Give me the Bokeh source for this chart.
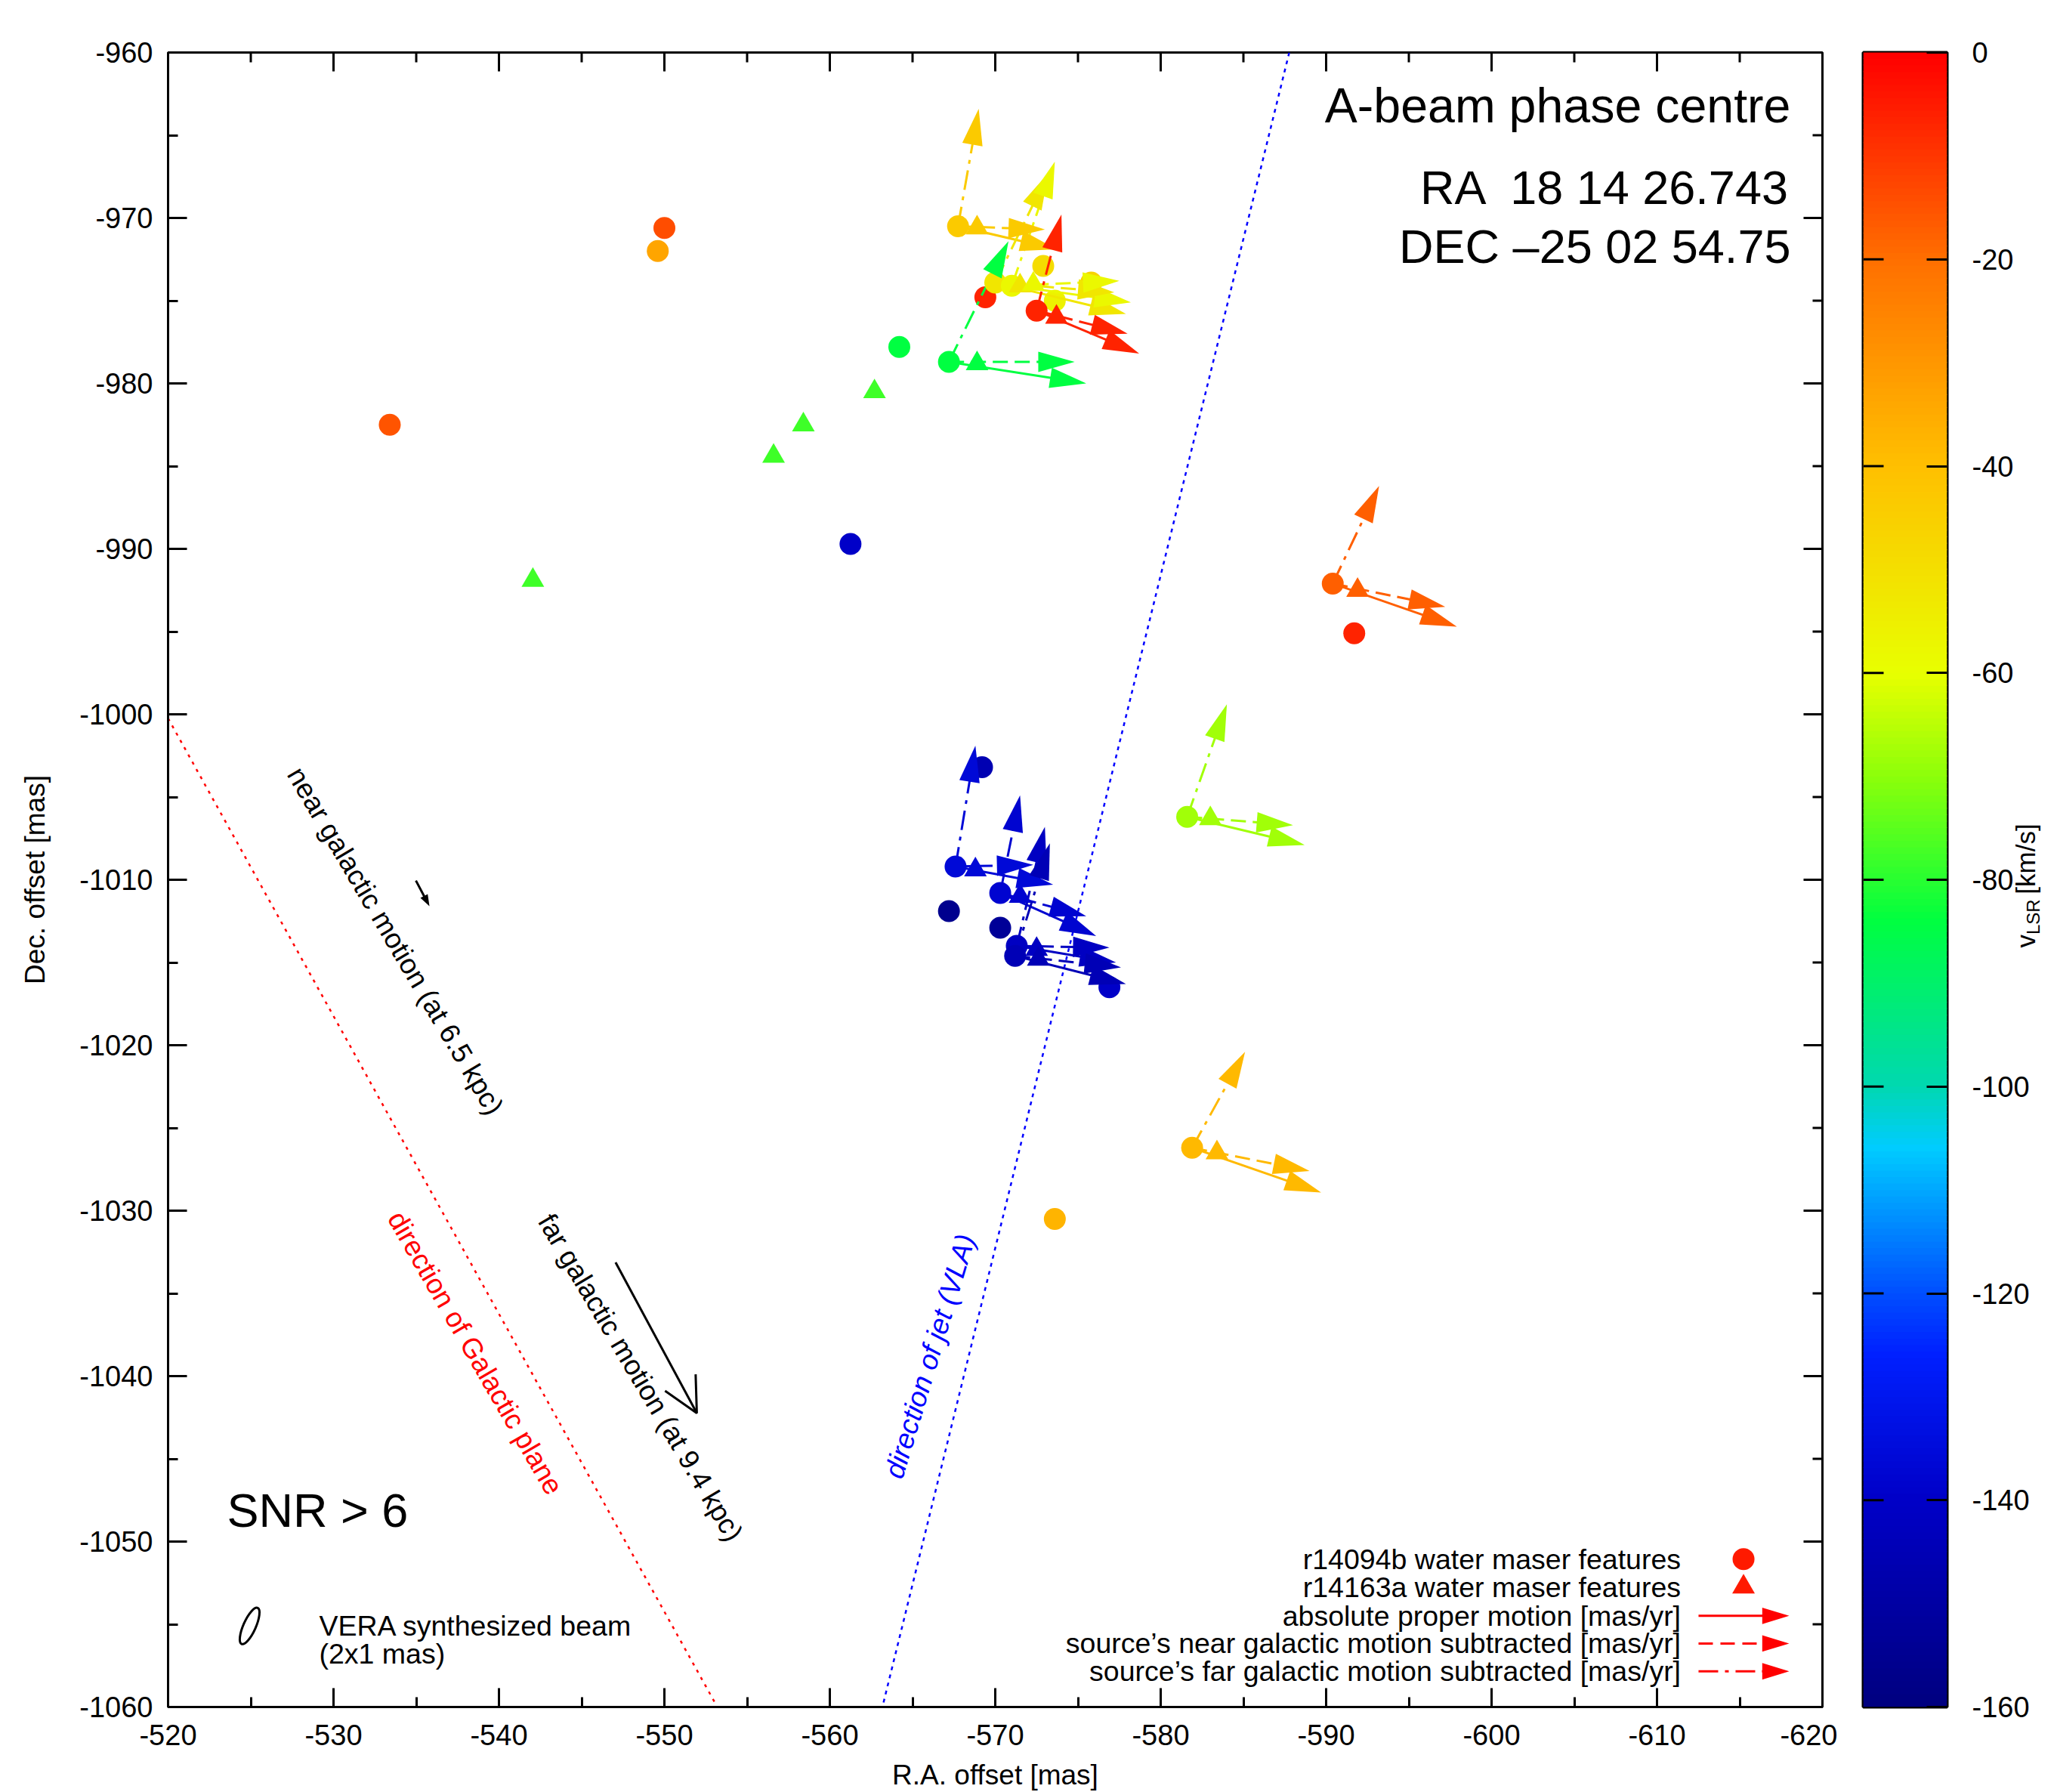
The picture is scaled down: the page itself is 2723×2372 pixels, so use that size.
import numpy as np
from bokeh.plotting import figure
from bokeh.models import Range1d, FixedTicker, Label, Arrow, OpenHead
from bokeh.layouts import row
from bokeh.embed import file_html
from bokeh.resources import INLINE
from bokeh.core.properties import value

FONT = "Liberation Sans"

# ---------------- axes / tick labels ----------------
x_ticks = [-520, -530, -540, -550, -560, -570, -580, -590, -600, -610, -620]
x_minor = [-525, -535, -545, -555, -565, -575, -585, -595, -605, -615]
y_ticks = [-960, -970, -980, -990, -1000, -1010, -1020, -1030, -1040, -1050, -1060]
y_minor = [-965, -975, -985, -995, -1005, -1015, -1025, -1035, -1045, -1055]
cb_ticks = [0, -20, -40, -60, -80, -100, -120, -140, -160]

# ---------------- r14094b features with proper motions ----------------
mf_x = [-567.75, -570.0, -571.0, -572.5, -567.2, -590.4, -581.6, -581.9, -567.6, -570.3, -571.3, -571.2]
mf_y = [-970.5, -973.9, -974.1, -975.6, -978.7, -992.1, -1006.2, -1026.2, -1009.2, -1010.8, -1014.0, -1014.6]
mf_v = [-43, -52, -58, -6, -84, -17, -68, -38, -136, -138, -142, -145]
# matching r14163a features
mt_x = [-568.9, -571.5, -572.3, -573.7, -568.9, -591.9, -583.0, -583.4, -568.8, -571.5, -572.5, -572.6]
mt_y = [-970.6, -974.1, -974.0, -976.0, -978.8, -992.5, -1006.3, -1026.5, -1009.4, -1011.0, -1014.2, -1014.8]
# arrow tips: absolute, near-galactic-subtracted, far-galactic-subtracted
abs_x = [-573.7, -577.9, -578.2, -578.7, -575.5, -597.9, -588.7, -589.7, -573.5, -576.1, -577.3, -577.9]
abs_y = [-971.9, -975.8, -975.1, -978.2, -980.0, -994.7, -1007.9, -1028.9, -1010.3, -1013.4, -1015.0, -1016.3]
near_x = [-573.0, -577.2, -577.5, -578.0, -574.8, -597.2, -588.0, -589.0, -572.3, -575.5, -576.9, -577.6]
near_y = [-970.7, -974.5, -973.8, -977.0, -978.7, -993.5, -1006.7, -1027.6, -1009.1, -1012.2, -1014.1, -1015.3]
far_x = [-569.0, -573.2, -573.6, -574.0, -570.8, -593.2, -584.0, -585.1, -568.8, -571.5, -573.0, -573.3]
far_y = [-963.4, -967.3, -966.6, -969.8, -971.4, -986.2, -999.4, -1020.4, -1001.9, -1004.9, -1006.8, -1007.8]

# ---------------- features without proper motions ----------------
sc_x = [-550.0, -549.6, -533.4, -561.25, -564.2, -569.4, -572.9, -573.6, -575.8, -591.7, -573.6, -569.2, -567.2, -570.3, -576.9]
sc_y = [-970.6, -972.0, -982.5, -989.7, -977.8, -974.8, -972.9, -975.0, -973.9, -995.1, -1030.5, -1003.2, -1011.9, -1012.9, -1016.5]
sc_v = [-14, -33, -15, -140, -84, -6, -49, -56, -46, -6, -37, -146, -156, -154, -140]
st_x = [-542.05, -556.6, -558.4, -562.7]
st_y = [-991.9, -984.4, -982.5, -980.5]
st_v = [-78, -78, -78, -78]

# source galactic motions (start, end)
near_gal = [-534.98, -1010.05, -535.8, -1011.6]
far_gal = [-547.05, -1033.13, -551.96, -1042.24]
# galactic plane and jet directions (two points each)
gal_plane_x = [-520.0, -553.2]
gal_plane_y = [-1000.24, -1060.0]
jet_x = [-587.77, -561.9]
jet_y = [-960.0, -1065.2]

legend_text = ["r14094b water maser features",
               "r14163a water maser features",
               "absolute proper motion [mas/yr]",
               "source\u2019s near galactic motion subtracted [mas/yr]",
               "source\u2019s far galactic motion subtracted [mas/yr]"]

# ---------------- colour scale ----------------
pal_v = [-160, -140, -126, -120, -106, -100, -84, -70, -60, -40, -20, 0]
pal_rgb = [(0, 0, 128), (0, 0, 200), (0, 32, 255), (0, 80, 255), (0, 204, 255), (0, 216, 176),
           (0, 255, 64), (140, 255, 10), (232, 255, 0), (255, 192, 0), (255, 112, 0), (255, 0, 0)]
NPAL = 256
_pv = np.linspace(-160, 0, NPAL)
PALETTE = []
for v in _pv:
    r = np.interp(v, pal_v, [c[0] for c in pal_rgb])
    g = np.interp(v, pal_v, [c[1] for c in pal_rgb])
    b = np.interp(v, pal_v, [c[2] for c in pal_rgb])
    PALETTE.append("#%02x%02x%02x" % (int(round(r)), int(round(g)), int(round(b))))


def vcolor(v):
    i = int(round((v + 160) / 160 * (NPAL - 1)))
    return PALETTE[max(0, min(NPAL - 1, i))]


def arrow_geom(x0, y0, x1, y1, L, hw):
    hx, hy, ex, ey = [], [], [], []
    for a, b, c, d in zip(x0, y0, x1, y1):
        dx, dy = c - a, d - b
        n = np.hypot(dx, dy)
        ux, uy = dx / n, dy / n
        bx, by = c - L * ux, d - L * uy
        px, py = -uy, ux
        hx.append([c, bx + hw * px, bx - hw * px])
        hy.append([d, by + hw * py, by - hw * py])
        ex.append(c - 0.8 * L * ux)
        ey.append(d - 0.8 * L * uy)
    return hx, hy, ex, ey


# ---------------- main figure ----------------
p = figure(x_range=Range1d(-520, -620), y_range=Range1d(-1060, -960),
           frame_width=2190, frame_height=2190,
           min_border_left=222, min_border_right=20, min_border_top=69, min_border_bottom=60,
           output_backend="svg", toolbar_location=None)
p.grid.visible = False
p.outline_line_color = "black"
p.outline_line_width = 3
p.background_fill_color = "white"
p.border_fill_color = "white"

p.xaxis.ticker = FixedTicker(ticks=x_ticks, minor_ticks=x_minor)
p.yaxis.ticker = FixedTicker(ticks=y_ticks, minor_ticks=y_minor)
p.xaxis.major_label_overrides = {t: str(t) for t in x_ticks}
p.yaxis.major_label_overrides = {t: str(t) for t in y_ticks}
p.xaxis.axis_label = "R.A. offset [mas]"
p.yaxis.axis_label = "Dec. offset [mas]"
for ax in (p.xaxis[0], p.yaxis[0]):
    ax.major_tick_in = 25
    ax.major_tick_out = 0
    ax.minor_tick_in = 13
    ax.minor_tick_out = 0
    ax.major_tick_line_width = 3
    ax.minor_tick_line_width = 3
    ax.axis_line_width = 3
    ax.major_label_text_font = FONT
    ax.major_label_text_font_size = "38px"
    ax.major_label_text_color = "black"
    ax.axis_label_text_font = FONT
    ax.axis_label_text_font_size = "37px"
    ax.axis_label_text_font_style = "normal"
    ax.axis_label_text_color = "black"
p.xaxis.major_label_standoff = 23
p.xaxis.axis_label_standoff = 16
p.yaxis.major_label_standoff = 20
p.yaxis.axis_label_standoff = 35

# mirrored ticks on the top and right frame edges
tl_major = 25 / 21.9
tl_minor = 13 / 21.9
p.segment(x0=x_ticks, x1=x_ticks, y0=[-960] * len(x_ticks), y1=[-960 - tl_major] * len(x_ticks),
          line_color="black", line_width=3)
p.segment(x0=x_minor, x1=x_minor, y0=[-960] * len(x_minor), y1=[-960 - tl_minor] * len(x_minor),
          line_color="black", line_width=3)
p.segment(x0=[-620] * len(y_ticks), x1=[-620 + tl_major] * len(y_ticks), y0=y_ticks, y1=y_ticks,
          line_color="black", line_width=3)
p.segment(x0=[-620] * len(y_minor), x1=[-620 + tl_minor] * len(y_minor), y0=y_minor, y1=y_minor,
          line_color="black", line_width=3)

# direction lines
p.line(gal_plane_x, gal_plane_y, line_color="#ff0000", line_width=2.5, line_dash="4 7")
p.line(jet_x, jet_y, line_color="#0000ff", line_width=2.5, line_dash="5 6")

# static features
p.scatter(sc_x, sc_y, marker="circle", size=29, fill_color=[vcolor(v) for v in sc_v], line_color=None)
p.scatter(st_x, st_y, marker="triangle", size=30, fill_color=[vcolor(v) for v in st_v], line_color=None)

# proper-motion arrows
mcol = [vcolor(v) for v in mf_v]
L, HW = 2.2, 0.62
heads_x, heads_y, heads_c = [], [], []
for tx, ty, dash in ((abs_x, abs_y, "solid"), (near_x, near_y, "20 9"), (far_x, far_y, "26 9 5 9")):
    hx, hy, ex, ey = arrow_geom(mf_x, mf_y, tx, ty, L, HW)
    p.segment(x0=mf_x, y0=mf_y, x1=ex, y1=ey, line_color=mcol, line_width=3, line_dash=dash)
    heads_x += hx
    heads_y += hy
    heads_c += mcol

p.scatter(mf_x, mf_y, marker="circle", size=29, fill_color=mcol, line_color=None)
p.scatter(mt_x, mt_y, marker="triangle", size=30, fill_color=mcol, line_color=None)
p.patches(heads_x, heads_y, fill_color=heads_c, line_color=None)

# source galactic motion arrows
hx, hy, ex, ey = arrow_geom([near_gal[0]], [near_gal[1]], [near_gal[2]], [near_gal[3]], 0.7, 0.25)
p.segment(x0=[near_gal[0]], y0=[near_gal[1]], x1=ex, y1=ey, line_color="black", line_width=3)
p.patches(hx, hy, fill_color="black", line_color=None)
p.add_layout(Arrow(x_start=far_gal[0], y_start=far_gal[1], x_end=far_gal[2], y_end=far_gal[3],
                   line_color="black", line_width=3,
                   end=OpenHead(size=46, line_width=3, line_color="black")))

# beam
p.ellipse(x=[-524.93], y=[-1055.1], width=[0.75], height=[2.4], angle=[-0.42],
          fill_color=None, line_color="black", line_width=3)


def lab(text, x, y, size, align="left", angle=0.0, color="black", style="normal", fig=p):
    fig.add_layout(Label(x=x, y=y, text=text, text_font=FONT, text_font_size=size,
                         text_align=align, text_baseline="middle", angle=angle,
                         angle_units="deg", text_color=color, text_font_style=style))


lab("A-beam phase centre", -618.08, -963.2, "64.5px", align="right")
lab("RA \u00a018 14 26.743", -618.08, -968.17, "63px", align="right")
lab("DEC \u201325 02 54.75", -618.08, -971.69, "63px", align="right")
lab("SNR > 6", -523.56, -1048.1, "63px")
lab("VERA synthesized beam", -529.13, -1055.1, "37.5px")
lab("(2x1 mas)", -529.13, -1056.8, "37.5px")
lab("near galactic motion (at 6.5 kpc)", -533.74, -1013.7, "37px", align="center", angle=-59.5)
lab("far galactic motion (at 9.4 kpc)", -548.56, -1040.09, "37px", align="center", angle=-59.4)
lab("direction of Galactic plane", -538.57, -1038.6, "37px", align="center", angle=-60.0, color="#ff0000")
lab("direction of jet (VLA)", -566.05, -1038.8, "37px", align="center", angle=73.2, color="#0000ff",
    style="italic")

# ---------------- key ----------------
leg_y = [-1051.06, -1052.74, -1054.49, -1056.16, -1057.84]
p.text(x=[-611.44] * 5, y=leg_y, text=legend_text, text_align="right", text_baseline="middle",
       text_font=value(FONT), text_font_size="37.5px", text_color="black")
p.scatter([-615.23], [leg_y[0]], marker="circle", size=29, fill_color="#ff1a00", line_color=None)
p.scatter([-615.23], [leg_y[1]], marker="triangle", size=30, fill_color="#ff1a00", line_color=None)
lx0, lx1 = -612.51, -617.99
for yy, dash in zip(leg_y[2:], ("solid", "19 10", "26 9 5 9")):
    hx, hy, ex, ey = arrow_geom([lx0], [yy], [lx1], [yy], 1.63, 0.5)
    p.segment(x0=[lx0], y0=[yy], x1=ex, y1=ey, line_color="#ff0000", line_width=3, line_dash=dash)
    p.patches(hx, hy, fill_color="#ff0000", line_color=None)

# ---------------- colour bar ----------------
p2 = figure(x_range=Range1d(0, 1), y_range=Range1d(-160, 0),
            frame_width=111, frame_height=2190,
            min_border_left=34, min_border_right=100, min_border_top=69, min_border_bottom=60,
            x_axis_location=None, y_axis_location="right",
            output_backend="svg", toolbar_location=None)
p2.grid.visible = False
p2.outline_line_color = "black"
p2.outline_line_width = 4
p2.border_fill_color = "white"
edges = np.linspace(-160, 0, NPAL + 1)
p2.quad(left=0, right=1, bottom=edges[:-1], top=edges[1:] + 0.08, fill_color=PALETTE, line_color=None)
ay = p2.yaxis[0]
ay.ticker = FixedTicker(ticks=cb_ticks, minor_ticks=[])
ay.major_label_overrides = {t: str(t) for t in cb_ticks}
ay.major_tick_in = 27
ay.major_tick_out = 0
ay.major_tick_line_width = 3
ay.axis_line_color = None
ay.major_label_standoff = 33
ay.major_label_text_font = FONT
ay.major_label_text_font_size = "38px"
ay.major_label_text_color = "black"
inner = cb_ticks[1:-1]
p2.segment(x0=[0] * len(inner), x1=[27 / 111] * len(inner), y0=inner, y1=inner,
           line_color="black", line_width=3)

# colour-bar title, in a transparent strip pulled over the right edge of the colour-bar panel
p3 = figure(x_range=Range1d(0, 63), y_range=Range1d(-160, 0),
            frame_width=63, frame_height=2190,
            min_border_left=0, min_border_right=0, min_border_top=69, min_border_bottom=60,
            x_axis_location=None, y_axis_location=None,
            output_backend="svg", toolbar_location=None)
p3.margin = (0, 0, 0, -40)
p3.grid.visible = False
p3.outline_line_color = None
p3.border_fill_color = None
p3.background_fill_color = None
p3.text(x=[31.7], y=[-86.58], text=["v"], angle=90, angle_units="deg", text_align="left",
        text_baseline="middle", text_font=value(FONT), text_font_size="35px", text_color="black")
p3.text(x=[41.9], y=[-85.3], text=["LSR"], angle=90, angle_units="deg", text_align="left",
        text_baseline="middle", text_font=value(FONT), text_font_size="24px", text_color="black")
p3.text(x=[31.7], y=[-81.4], text=["[km/s]"], angle=90, angle_units="deg", text_align="left",
        text_baseline="middle", text_font=value(FONT), text_font_size="35px", text_color="black")

layout = row(p, p2, p3)
open("out.html", "w").write(file_html(layout, INLINE))
